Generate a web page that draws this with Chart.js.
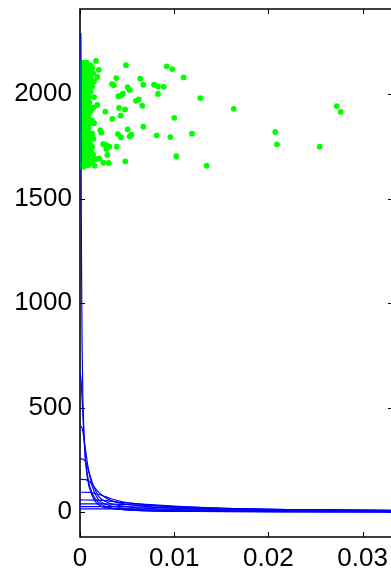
<!DOCTYPE html>
<html>
<head>
<meta charset="utf-8">
<script src="https://cdn.jsdelivr.net/npm/chart.js@4.4.1/dist/chart.umd.min.js"></script>
<style>
  html, body { margin: 0; padding: 0; background: #ffffff; overflow: hidden; }
  #wrap { width: 397px; height: 572px; }
</style>
</head>
<body>
<div id="wrap"><canvas id="c" width="397" height="572"></canvas></div>
<script>
// ---- axis ticks ----
const xTicks = [0, 0.01, 0.02, 0.03];
const xTickLabels = ['0', '0.01', '0.02', '0.03'];
const yTicks = [0, 500, 1000, 1500, 2000];
const yTickLabels = ['0', '500', '1000', '1500', '2000'];

// ---- green scatter: spread points ----
const spreadX = [0.0017, 0.00488, 0.0092, 0.0098, 0.0110, 0.0064, 0.00672, 0.00385, 0.0034, 0.0036,
  0.00786, 0.00828, 0.00889, 0.00506, 0.00528, 0.00456, 0.00435, 0.00407, 0.00828, 0.01277,
  0.00623, 0.00594, 0.00661, 0.00414, 0.00478, 0.00269, 0.00432, 0.00343, 0.01001, 0.00672,
  0.00506, 0.00215, 0.00226, 0.00403, 0.00435, 0.00545, 0.00528, 0.00814, 0.00959, 0.01189,
  0.00247, 0.0029, 0.00311, 0.00279, 0.0039, 0.01022, 0.00481, 0.01345, 0.00247, 0.00305,
  0.00177, 0.00205, 0.00156, 0.00092, 0.01632, 0.02073, 0.02091, 0.02545, 0.02725, 0.02768,
  0.002, 0.00184, 0.00184, 0.0029, 0.00273];
const spreadY = [2158, 2137, 2132, 2119, 2079, 2073, 2044, 2076, 2047, 2041,
  2044, 2036, 2034, 2032, 2019, 2001, 1993, 1989, 2000, 1980,
  1974, 1967, 1944, 1933, 1926, 1915, 1896, 1881, 1886, 1843,
  1831, 1827, 1815, 1808, 1793, 1805, 1797, 1802, 1794, 1810,
  1760, 1752, 1748, 1737, 1748, 1702, 1678, 1657, 1671, 1670,
  1689, 1692, 1657, 1660, 1929, 1818, 1759, 1748, 1942, 1914,
  2115, 2082, 1947, 1708, 1756];

// ---- green scatter: dense cluster near x = 0 (rows of y, x positions in each row) ----
const clusterY = [2150, 2138, 2125, 2110, 2098, 2085, 2072, 2060, 2047, 2035,
  2022, 2010, 1997, 1985, 1972, 1960, 1947, 1935, 1922, 1910,
  1897, 1885, 1872, 1860, 1847, 1835, 1822, 1810, 1797, 1785,
  1772, 1760, 1747, 1735, 1722, 1710, 1697, 1685, 1672, 1660, 1652];
const clusterX = [
  [0, 0.0003, 0.0007], [0.0001, 0.0005, 0.0011], [0, 0.0004, 0.0009, 0.0013], [0.0002, 0.0006, 0.001],
  [0, 0.0004, 0.0008, 0.0014], [0.0001, 0.0005, 0.0009], [0, 0.0003, 0.0007, 0.0012], [0.0002, 0.0006, 0.001, 0.0015],
  [0, 0.0004, 0.0008], [0.0001, 0.0005, 0.0009, 0.0013], [0, 0.0003, 0.0007], [0.0002, 0.0006, 0.0011],
  [0, 0.0004, 0.0008], [0.0001, 0.0005, 0.0009, 0.0015], [0, 0.0003, 0.0007], [0.0002, 0.0006, 0.001],
  [0, 0.0004, 0.0008], [0.0001, 0.0005, 0.0009, 0.0014], [0, 0.0003, 0.0007, 0.0012], [0.0002, 0.0006, 0.001],
  [0, 0.0004, 0.0008], [0.0001, 0.0005, 0.0009], [0, 0.0003, 0.0007, 0.0013], [0.0002, 0.0006, 0.001, 0.0015],
  [0, 0.0004, 0.0008], [0.0001, 0.0005, 0.0009], [0, 0.0003, 0.0007], [0.0002, 0.0006, 0.001, 0.0013],
  [0, 0.0004, 0.0008], [0.0001, 0.0005, 0.0009, 0.0014], [0, 0.0003, 0.0007], [0.0002, 0.0006, 0.0011],
  [0, 0.0004, 0.0008, 0.0013], [0.0001, 0.0005, 0.0009], [0, 0.0003, 0.0007, 0.0012], [0.0002, 0.0006, 0.001, 0.0014],
  [0, 0.0004, 0.0008], [0.0001, 0.0005, 0.0009, 0.0015], [0, 0.0003, 0.0007, 0.0011], [0.0002, 0.0006],
  [0, 0.0004]];

// ---- blue decay curves: [x, y] samples ----
const curve1 = [[0.0001,2290],[0.00012,1700],[0.00016,1200],[0.00022,800],[0.0003,560],[0.0005,300],[0.0008,160],[0.0012,90],[0.002,35],[0.004,15],[0.007,7],[0.012,4],[0.02,2.5],[0.034,1.5]];
const curve2 = [[0,664],[0.0001,640],[0.0002,560],[0.0004,380],[0.0006,250],[0.0009,150],[0.0013,90],[0.002,45],[0.003,25],[0.005,12],[0.008,7],[0.013,4],[0.02,3],[0.034,2]];
const curve3 = [[0,412],[0.0002,405],[0.0004,360],[0.0006,295],[0.0009,205],[0.0013,125],[0.002,58],[0.003,35],[0.005,18],[0.008,10],[0.013,6],[0.02,4],[0.034,2.5]];
const curve4 = [[0,256],[0.0004,252],[0.0007,228],[0.001,185],[0.0014,130],[0.002,75],[0.003,46],[0.0045,30],[0.007,19],[0.011,12],[0.018,7],[0.034,3.5]];
const curve5 = [[0,158],[0.0006,156],[0.001,147],[0.0015,122],[0.002,95],[0.003,62],[0.0045,42],[0.0065,30],[0.01,20],[0.016,12],[0.025,7],[0.034,5]];
const curve6 = [[0,96],[0.001,95],[0.0016,90],[0.0024,80],[0.0033,65],[0.0045,50],[0.006,40],[0.009,30],[0.014,19],[0.022,11],[0.034,7]];
const curve7 = [[0,59],[0.0015,58.5],[0.0025,57],[0.0035,52],[0.005,45],[0.007,38],[0.01,30],[0.015,20],[0.022,13],[0.034,8]];
const curve8 = [[0,40],[0.002,40],[0.0035,39],[0.005,37],[0.007,33],[0.01,27],[0.015,19],[0.022,13],[0.034,9]];
const curve9 = [[0,27],[0.003,27],[0.005,26.5],[0.008,24],[0.012,20],[0.018,15],[0.026,11],[0.034,9]];
const curve10 = [[0,16],[0.005,16],[0.01,15],[0.018,12],[0.026,10],[0.034,8]];
const curves = [curve1, curve2, curve3, curve4, curve5, curve6, curve7, curve8, curve9, curve10];

// ---- build datasets ----
const greenPts = [];
clusterY.forEach((y, i) => clusterX[i].forEach(x => greenPts.push({x, y})));
spreadX.forEach((x, i) => greenPts.push({x, y: spreadY[i]}));

const datasets = curves.map(c => ({
  type: 'line',
  data: c.map(p => ({x: p[0], y: p[1]})),
  borderColor: '#0000ff',
  borderWidth: 1.2,
  pointRadius: 0,
  fill: false,
  showLine: true,
  cubicInterpolationMode: 'monotone'
}));
datasets.push({
  type: 'scatter',
  data: greenPts,
  backgroundColor: '#00ff00',
  borderWidth: 0,
  pointRadius: 2.9,
  showLine: false
});

const FONT = { family: '"Liberation Sans", Arial, Helvetica, sans-serif', size: 26 };

const boxPlugin = {
  id: 'box',
  beforeDatasetsDraw(chart) {
    const ctx = chart.ctx, a = chart.chartArea;
    const xs = chart.scales.x, ys = chart.scales.y;
    ctx.save();
    ctx.strokeStyle = '#000000';
    ctx.lineWidth = 1.6;
    ctx.beginPath();
    ctx.rect(a.left, a.top, a.right - a.left, a.bottom - a.top);
    ctx.stroke();
    ctx.lineWidth = 1;
    const L = 5;
    ctx.beginPath();
    xTicks.forEach(v => {
      const px = Math.round(xs.getPixelForValue(v)) + 0.5;
      ctx.moveTo(px, a.bottom); ctx.lineTo(px, a.bottom - L);
      ctx.moveTo(px, a.top); ctx.lineTo(px, a.top + L);
    });
    yTicks.forEach(v => {
      const py = Math.round(ys.getPixelForValue(v)) + 0.5;
      ctx.moveTo(a.left, py); ctx.lineTo(a.left + L, py);
      ctx.moveTo(a.right, py); ctx.lineTo(a.right - L, py);
    });
    ctx.stroke();
    ctx.restore();
  }
};

new Chart(document.getElementById('c'), {
  type: 'scatter',
  data: { datasets },
  options: {
    responsive: false,
    animation: false,
    devicePixelRatio: 1,
    layout: { padding: { top: 9, right: 0, left: 0, bottom: 0 } },
    plugins: { legend: { display: false }, tooltip: { enabled: false } },
    scales: {
      x: {
        type: 'linear',
        min: 0,
        max: 0.03323,
        grid: { display: false, drawTicks: false },
        border: { display: false },
        afterBuildTicks: s => { s.ticks = xTicks.map(v => ({ value: v })); },
        afterFit: s => { s.height = 35; s.paddingLeft = 0; s.paddingRight = 0; },
        ticks: {
          font: FONT, color: '#000000', padding: 6, maxRotation: 0, autoSkip: false,
          callback: (v, i) => xTickLabels[i]
        }
      },
      y: {
        type: 'linear',
        min: -118,
        max: 2406,
        grid: { display: false, drawTicks: false },
        border: { display: false },
        afterBuildTicks: s => { s.ticks = yTicks.map(v => ({ value: v })); },
        afterFit: s => { s.width = 80; s.paddingTop = 0; s.paddingBottom = 0; },
        ticks: {
          font: FONT, color: '#000000', padding: 8, autoSkip: false,
          callback: (v, i) => yTickLabels[i]
        }
      }
    }
  },
  plugins: [boxPlugin]
});
</script>
</body>
</html>
